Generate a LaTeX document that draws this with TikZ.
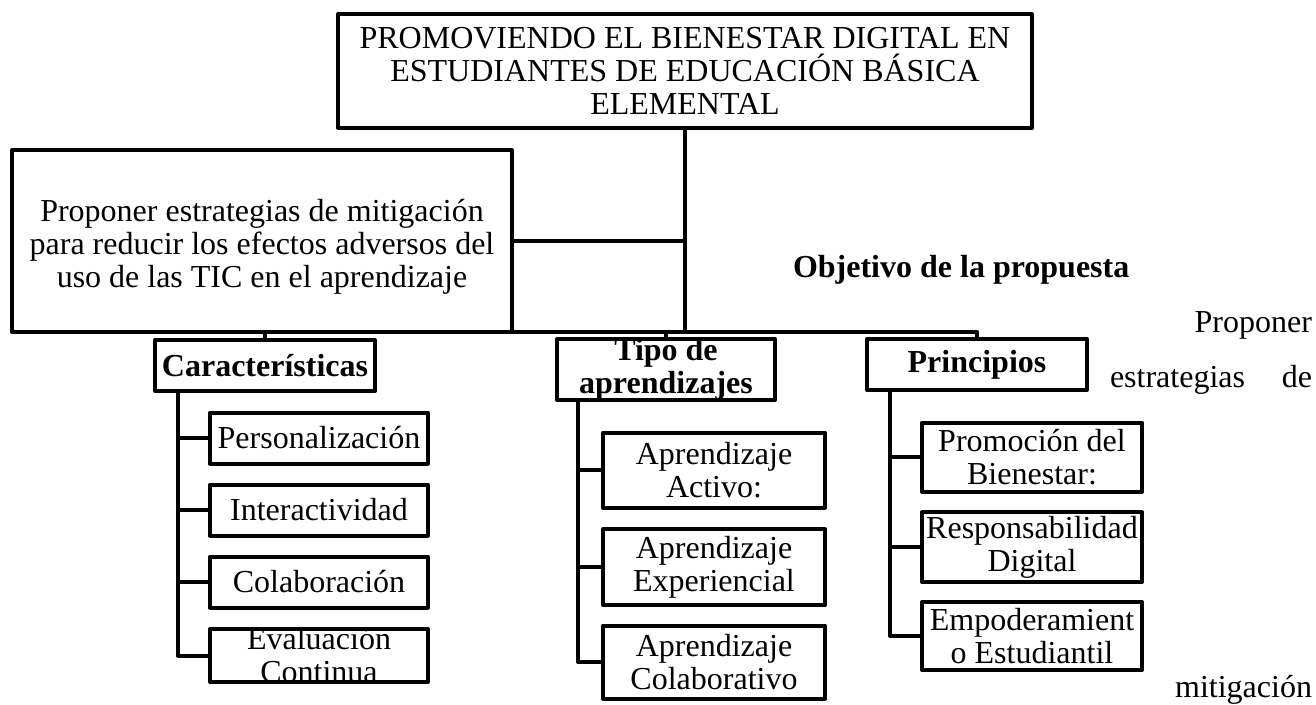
\documentclass[tikz,border=0pt]{standalone}
\usepackage{fontspec}
\setmainfont{Liberation Serif}
\begin{document}
\begin{tikzpicture}[x=1pt,y=-1pt,
  every node/.style={font=\fontsize{32}{33}\selectfont, inner sep=0pt, outer sep=0pt},
  box/.style={draw, line width=4pt, line join=round, align=center},
  boldtxt/.style={font=\fontsize{32}{33}\selectfont\bfseries},
  conn/.style={line width=4pt, line join=round},
]
\clip (0,0) rectangle (1316,704);

% main boxes
\node[box, minimum width=694pt, minimum height=114pt] (top) at (685,71)
  {PROMOVIENDO EL BIENESTAR DIGITAL EN\\ESTUDIANTES DE EDUCACIÓN BÁSICA\\ELEMENTAL};
\node[box, minimum width=500pt, minimum height=182pt] (obj) at (262,241) {};
\node[align=center] (objtxt) at ([yshift=-6pt]obj.center)
  {Proponer estrategias de mitigación\\para reducir los efectos adversos del\\uso de las TIC en el aprendizaje};

% level 2
\node[box, boldtxt, minimum width=220pt, minimum height=51pt] (car) at (265,365.5) {Características};
\node[box, minimum width=218pt, minimum height=61pt,
  path picture={\node[boldtxt, align=center] at (path picture bounding box.center) {Tipo de\\aprendizajes};}]
  (tipo) at (666,369.5) {};
\node[box, boldtxt, minimum width=220pt, minimum height=51pt] (prin) at (977,364.5) {Principios};

% Caracteristicas children
\node[box, minimum width=218pt, minimum height=51pt] (c1) at (319,438) {Personalización};
\node[box, minimum width=218pt, minimum height=51pt] (c2) at (319,510) {Interactividad};
\node[box, minimum width=218pt, minimum height=51pt] (c3) at (319,582) {Colaboración};
\node[box, minimum width=218pt, minimum height=53pt,
  path picture={\node[align=center] at (path picture bounding box.center) {Evaluación\\Continua};}]
  (c4) at (319,655.5) {};

% Tipo children
\node[box, minimum width=222pt, minimum height=75pt] (t1) at (714,470) {Aprendizaje\\Activo:};
\node[box, minimum width=222pt, minimum height=76pt] (t2) at (714,567) {Aprendizaje\\Experiencial};
\node[box, minimum width=222pt, minimum height=73pt] (t3) at (714,662) {Aprendizaje\\Colaborativo};

% Principios children
\node[box, minimum width=220pt, minimum height=69pt] (p1) at (1032,457) {Promoción del\\Bienestar:};
\node[box, minimum width=220pt, minimum height=70pt] (p2) at (1032,547) {Responsabilidad\\Digital};
\node[box, minimum width=220pt, minimum height=68pt] (p3) at (1032,636) {Empoderamient\\o Estudiantil};

% free text on the right
\node[boldtxt, anchor=base west] (objlab) at (793,277) {Objetivo de la propuesta};
\node[anchor=base east] (r1) at (1312,332) {Proponer};
\node[anchor=base west] (r2a) at (1110,387) {estrategias};
\node[anchor=base east] (r2b) at (1312,387) {de};
\node[anchor=base east] (r3) at (1312,697) {mitigación};

% connectors
\draw[conn] (top.south) -- (top.south |- obj.south);
\draw[conn] (obj.east) -- (obj.east -| top.south);
\draw[conn] (obj.south east) -| (prin.north);
\draw[conn] (car.north) -- (car.north |- obj.south);
\draw[conn] (tipo.north) -- (tipo.north |- obj.south);

\coordinate (carline) at ([xshift=23pt]car.south west);
\draw[conn] (carline) |- (c4.west);
\foreach \n in {c1,c2,c3} \draw[conn] (carline |- \n.west) -- (\n.west);

\coordinate (tipoline) at ([xshift=21pt]tipo.south west);
\draw[conn] (tipoline) |- (t3.west);
\foreach \n in {t1,t2} \draw[conn] (tipoline |- \n.west) -- (\n.west);

\coordinate (prinline) at ([xshift=23pt]prin.south west);
\draw[conn] (prinline) |- (p3.west);
\foreach \n in {p1,p2} \draw[conn] (prinline |- \n.west) -- (\n.west);
\end{tikzpicture}
\end{document}
